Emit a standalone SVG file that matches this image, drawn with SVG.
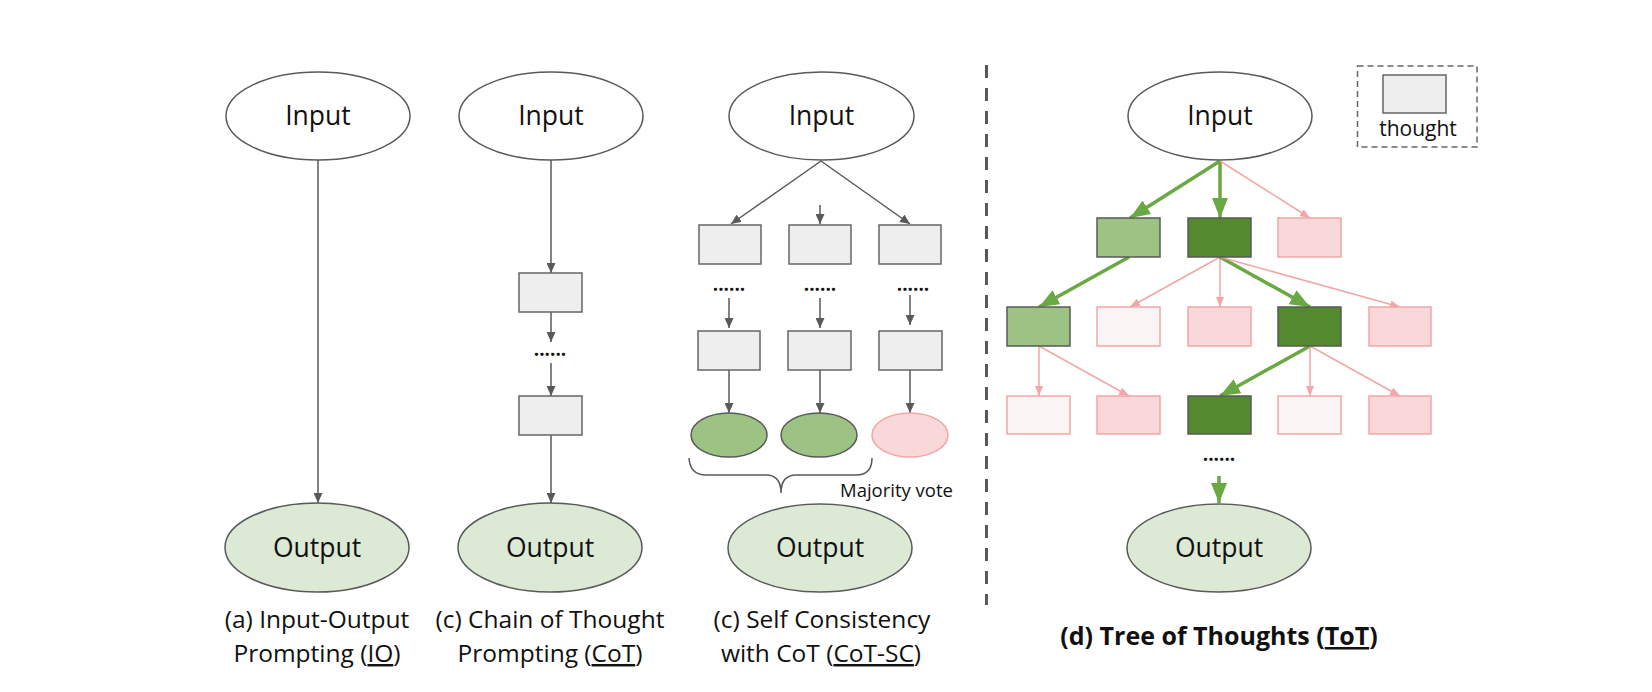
<svg xmlns="http://www.w3.org/2000/svg" width="1652" height="692" viewBox="0 0 1652 692">
<defs>
<style>
text{font-family:"Open Sans","Liberation Sans",sans-serif;fill:#111;}
.node{font-size:26.5px;text-anchor:middle;}
.cap{font-size:24.5px;text-anchor:middle;}
.dots{font-size:19px;text-anchor:middle;font-weight:bold;}
.in{fill:#fff;stroke:#595959;stroke-width:1.5;}
.out{fill:#dce9d5;stroke:#595959;stroke-width:1.5;}
.th{fill:#eeeeee;stroke:#666;stroke-width:1.5;}
.lg{fill:#9dc384;stroke:#595959;stroke-width:1.5;}
.dg{fill:#538a2f;stroke:#595959;stroke-width:1.5;}
.pk{fill:#f8d8d8;stroke:#f2a6a6;stroke-width:1.5;}
.vp{fill:#fbf4f4;stroke:#f2a6a6;stroke-width:1.5;}
.ga{stroke:#595959;stroke-width:1.5;fill:none;marker-end:url(#mg);}
.gr{stroke:#6aa843;stroke-width:3.5;fill:none;marker-end:url(#mG);}
.pa{stroke:#f2a6a6;stroke-width:1.5;fill:none;marker-end:url(#mp);}
</style>
<marker id="mg" markerUnits="userSpaceOnUse" markerWidth="10" markerHeight="9" refX="10" refY="4.5" orient="auto"><path d="M0,0 L10,4.5 L0,9 z" fill="#595959"/></marker>
<marker id="mG" markerUnits="userSpaceOnUse" markerWidth="20" markerHeight="16" refX="20" refY="8" orient="auto"><path d="M0,0 L20,8 L0,16 z" fill="#6aa843"/></marker>
<marker id="mp" markerUnits="userSpaceOnUse" markerWidth="10" markerHeight="8" refX="10" refY="4" orient="auto"><path d="M0,0 L10,4 L0,8 z" fill="#f2a6a6"/></marker>
</defs>

<g id="connectors">
<line class="ga" x1="318" y1="160" x2="318" y2="503"/>
<line class="ga" x1="551" y1="160" x2="551" y2="273"/>
<line class="ga" x1="551" y1="312" x2="551" y2="342"/>
<line class="ga" x1="551" y1="363" x2="551" y2="396"/>
<line class="ga" x1="551" y1="435" x2="551" y2="503"/>
<line class="ga" x1="821" y1="161" x2="731" y2="224"/>
<line class="ga" x1="821" y1="161" x2="910" y2="224"/>
<line class="ga" x1="820" y1="205" x2="820" y2="224"/>
<line class="ga" x1="729" y1="298" x2="729" y2="328"/>
<line class="ga" x1="820" y1="298" x2="820" y2="328"/>
<line class="ga" x1="910" y1="295" x2="910" y2="325"/>
<line class="ga" x1="729" y1="370" x2="729" y2="413"/>
<line class="ga" x1="820" y1="370" x2="820" y2="413"/>
<line class="ga" x1="910" y1="370" x2="910" y2="413"/>
<line class="gr" x1="1220" y1="161" x2="1130" y2="218"/>
<line class="gr" x1="1220" y1="161" x2="1220" y2="218"/>
<line class="pa" x1="1220" y1="161" x2="1310" y2="218"/>
<line class="gr" x1="1129" y1="257" x2="1039" y2="307"/>
<line class="pa" x1="1220" y1="257" x2="1130" y2="307"/>
<line class="pa" x1="1220" y1="257" x2="1220" y2="307"/>
<line class="gr" x1="1220" y1="257" x2="1310" y2="307"/>
<line class="pa" x1="1220" y1="257" x2="1400" y2="307"/>
<line class="pa" x1="1039" y1="346" x2="1039" y2="396"/>
<line class="pa" x1="1039" y1="346" x2="1129" y2="396"/>
<line class="gr" x1="1310" y1="346" x2="1220" y2="396"/>
<line class="pa" x1="1310" y1="346" x2="1310" y2="396"/>
<line class="pa" x1="1310" y1="346" x2="1400" y2="396"/>
<line class="gr" x1="1219" y1="476" x2="1219" y2="503"/>
</g>

<line x1="986.5" y1="65" x2="986.5" y2="605" stroke="#595959" stroke-width="3" stroke-dasharray="13 10"/>

<g id="io-input"><ellipse class="in" cx="318" cy="116" rx="92" ry="44"/><text class="node" x="318" y="125">Input</text></g>
<g id="io-output"><ellipse class="out" cx="317" cy="547.5" rx="92" ry="44.5"/><text class="node" x="317" y="557">Output</text></g>
<g id="io-caption"><text class="cap" x="317" y="628">(a) Input-Output</text><text class="cap" x="317" y="662">Prompting (<tspan text-decoration="underline">IO</tspan>)</text></g>

<g id="cot-input"><ellipse class="in" cx="551" cy="116" rx="92" ry="44"/><text class="node" x="551" y="125">Input</text></g>
<g id="cot-t1"><rect class="th" x="519" y="273" width="63" height="39"/></g>
<g id="cot-dots"><text class="dots" x="550" y="356">......</text></g>
<g id="cot-t2"><rect class="th" x="519" y="396" width="63" height="39"/></g>
<g id="cot-output"><ellipse class="out" cx="550" cy="547.5" rx="92" ry="44.5"/><text class="node" x="550" y="557">Output</text></g>
<g id="cot-caption"><text class="cap" x="550" y="628">(c) Chain of Thought</text><text class="cap" x="550" y="662">Prompting (<tspan text-decoration="underline">CoT</tspan>)</text></g>

<g id="sc-input"><ellipse class="in" cx="821.5" cy="116" rx="92.5" ry="44"/><text class="node" x="821.5" y="125">Input</text></g>
<g id="sc-a1"><rect class="th" x="699" y="225" width="62" height="39"/></g>
<g id="sc-b1"><rect class="th" x="789" y="225" width="62" height="39"/></g>
<g id="sc-c1"><rect class="th" x="879" y="225" width="62" height="39"/></g>
<g id="sc-dots"><text class="dots" x="729" y="291">......</text><text class="dots" x="820" y="291">......</text><text class="dots" x="913" y="291">......</text></g>
<g id="sc-a2"><rect class="th" x="698" y="331" width="62" height="39"/></g>
<g id="sc-b2"><rect class="th" x="788" y="331" width="63" height="39"/></g>
<g id="sc-c2"><rect class="th" x="879" y="331" width="63" height="39"/></g>
<g id="sc-ra"><ellipse cx="729" cy="435" rx="38" ry="22" fill="#9dc384" stroke="#595959" stroke-width="1.5"/></g>
<g id="sc-rb"><ellipse cx="819" cy="435" rx="38" ry="22" fill="#9dc384" stroke="#595959" stroke-width="1.5"/></g>
<g id="sc-rc"><ellipse cx="910" cy="435" rx="38" ry="22" fill="#f8d8d8" stroke="#f2a6a6" stroke-width="1.5"/></g>
<g id="sc-brace"><path d="M689,458 Q690,475 706,475 L766,475 Q781,475 781,493 Q781,475 796,475 L856,475 Q872,475 872,458" fill="none" stroke="#595959" stroke-width="1.5"/></g>
<g id="sc-vote"><text x="840" y="497" font-size="18.5">Majority vote</text></g>
<g id="sc-output"><ellipse class="out" cx="820" cy="548" rx="92" ry="44"/><text class="node" x="820" y="557">Output</text></g>
<g id="sc-caption"><text class="cap" x="822" y="628">(c) Self Consistency</text><text class="cap" x="821" y="662">with CoT (<tspan text-decoration="underline">CoT-SC</tspan>)</text></g>

<g id="legend"><rect x="1357.5" y="66" width="119.5" height="81" fill="none" stroke="#666" stroke-width="1.5" stroke-dasharray="6 4"/><rect class="th" x="1383" y="75" width="63" height="38"/><text x="1418" y="136" font-size="21" text-anchor="middle">thought</text></g>
<g id="tot-input"><ellipse class="in" cx="1220" cy="116" rx="92" ry="44"/><text class="node" x="1220" y="125">Input</text></g>
<g id="tot-a"><rect class="lg" x="1097" y="218" width="63" height="39"/></g>
<g id="tot-b"><rect class="dg" x="1188" y="218" width="63" height="39"/></g>
<g id="tot-c"><rect class="pk" x="1278" y="218" width="63" height="39"/></g>
<g id="tot-d"><rect class="lg" x="1007" y="307" width="63" height="39"/></g>
<g id="tot-e"><rect class="vp" x="1097" y="307" width="63" height="39"/></g>
<g id="tot-f"><rect class="pk" x="1188" y="307" width="63" height="39"/></g>
<g id="tot-g"><rect class="dg" x="1278" y="307" width="63" height="39"/></g>
<g id="tot-h"><rect class="pk" x="1369" y="307" width="62" height="39"/></g>
<g id="tot-i"><rect class="vp" x="1007" y="396" width="63" height="38"/></g>
<g id="tot-j"><rect class="pk" x="1097" y="396" width="63" height="38"/></g>
<g id="tot-k"><rect class="dg" x="1188" y="396" width="63" height="38"/></g>
<g id="tot-l"><rect class="vp" x="1278" y="396" width="63" height="38"/></g>
<g id="tot-m"><rect class="pk" x="1369" y="396" width="62" height="38"/></g>
<g id="tot-dots"><text class="dots" x="1219" y="461">......</text></g>
<g id="tot-output"><ellipse class="out" cx="1219" cy="548" rx="92" ry="44"/><text class="node" x="1219" y="557">Output</text></g>
<g id="tot-caption"><text x="1219" y="645" font-size="25" font-weight="bold" text-anchor="middle">(d) Tree of Thoughts (<tspan text-decoration="underline">ToT</tspan>)</text></g>
</svg>
